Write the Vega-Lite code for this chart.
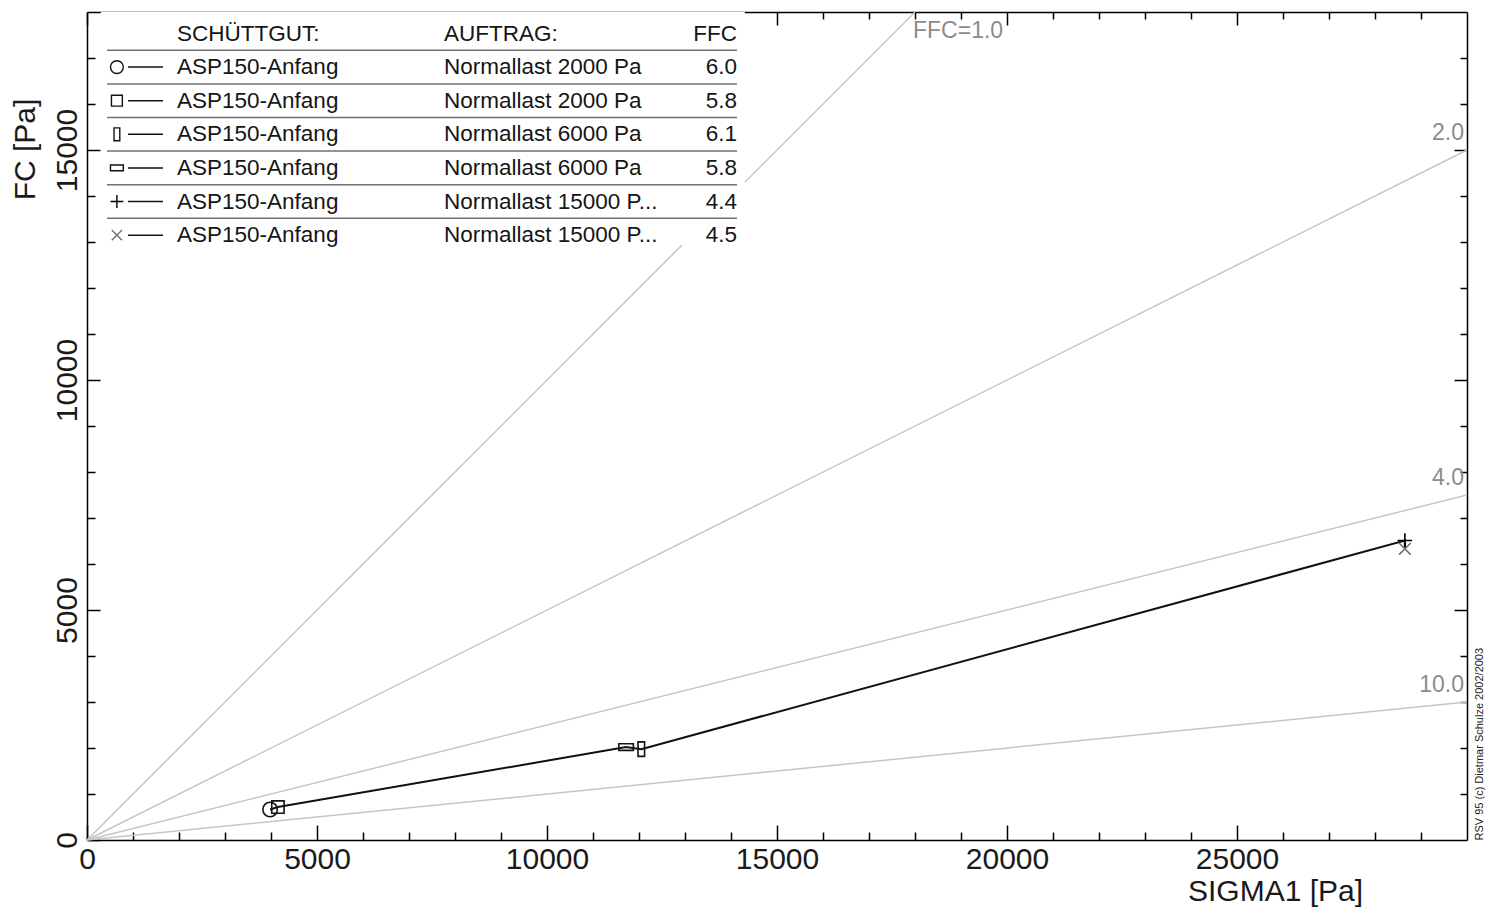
{
  "$schema": "https://vega.github.io/schema/vega-lite/v6.json",
  "width": 1380,
  "height": 828,
  "autosize": {"type": "none"},
  "padding": {"left": 87, "top": 12, "right": 19, "bottom": 71},
  "background": "white",
  "config": {
    "view": {"stroke": null},
    "font": "Liberation Sans",
    "text": {"font": "Liberation Sans"},
    "axis": {
      "grid": false,
      "labelFont": "Liberation Sans",
      "labelFontSize": 30,
      "labelColor": "#1a1a1a",
      "titleFont": "Liberation Sans",
      "titleFontSize": 30,
      "titleFontWeight": "normal",
      "titleColor": "#1a1a1a",
      "domainColor": "#000000",
      "domainWidth": 1.5,
      "tickColor": "#000000",
      "tickWidth": 1.5,
      "labelFlush": false,
      "zindex": 1
    }
  },
  "datasets": {
    "ffcLines": [
      {"ffc": 1, "sigma1": 0, "fc": 0},
      {"ffc": 1, "sigma1": 18000, "fc": 18000},
      {"ffc": 2, "sigma1": 0, "fc": 0},
      {"ffc": 2, "sigma1": 30000, "fc": 15000},
      {"ffc": 4, "sigma1": 0, "fc": 0},
      {"ffc": 4, "sigma1": 30000, "fc": 7500},
      {"ffc": 10, "sigma1": 0, "fc": 0},
      {"ffc": 10, "sigma1": 30000, "fc": 3000}
    ],
    "ffcLabels": [
      {"ffc": 1, "label": "FFC=1.0", "sigma1": 18000, "fc": 18000},
      {"ffc": 2, "label": "2.0", "sigma1": 30000, "fc": 15000},
      {"ffc": 4, "label": "4.0", "sigma1": 30000, "fc": 7500},
      {"ffc": 10, "label": "10.0", "sigma1": 30000, "fc": 3000}
    ],
    "pts": [
      {"series": "s1", "step": 1, "sigma1": 3980, "fc": 663},
      {"series": "s2", "step": 2, "sigma1": 4150, "fc": 716},
      {"series": "s3", "step": 4, "sigma1": 12050, "fc": 1975},
      {"series": "s4", "step": 3, "sigma1": 11720, "fc": 2020},
      {"series": "s5", "step": 5, "sigma1": 28650, "fc": 6510},
      {"series": "s6", "step": 6, "sigma1": 28650, "fc": 6330}
    ],
    "legend": [
      {"order": 0, "series": "header", "schuettgut": "SCHÜTTGUT:", "auftrag": "AUFTRAG:", "ffc": "FFC"},
      {"order": 1, "series": "s1", "schuettgut": "ASP150-Anfang", "auftrag": "Normallast 2000 Pa", "ffc": "6.0"},
      {"order": 2, "series": "s2", "schuettgut": "ASP150-Anfang", "auftrag": "Normallast 2000 Pa", "ffc": "5.8"},
      {"order": 3, "series": "s3", "schuettgut": "ASP150-Anfang", "auftrag": "Normallast 6000 Pa", "ffc": "6.1"},
      {"order": 4, "series": "s4", "schuettgut": "ASP150-Anfang", "auftrag": "Normallast 6000 Pa", "ffc": "5.8"},
      {"order": 5, "series": "s5", "schuettgut": "ASP150-Anfang", "auftrag": "Normallast 15000 P...", "ffc": "4.4"},
      {"order": 6, "series": "s6", "schuettgut": "ASP150-Anfang", "auftrag": "Normallast 15000 P...", "ffc": "4.5"}
    ],
    "blank": [{}]
  },
  "resolve": {"scale": {"y": "independent"}, "axis": {"x": "independent", "y": "independent"}},
  "layer": [
    {
      "data": {"name": "ffcLines"},
      "mark": {"type": "line", "color": "#c6c6c6", "strokeWidth": 1.5},
      "encoding": {
        "x": {"field": "sigma1", "type": "quantitative",
          "scale": {"domain": [0, 30000], "nice": false, "zero": true},
          "axis": {"orient": "bottom", "values": [0, 5000, 10000, 15000, 20000, 25000], "format": "d", "tickSize": -15, "labelPadding": 19,
            "title": "SIGMA1 [Pa]", "titleX": 1188, "titleAlign": "center", "titlePadding": 2}},
        "y": {"field": "fc", "type": "quantitative",
          "scale": {"domain": [0, 18000], "nice": false, "zero": true},
          "axis": {"orient": "left", "values": [0, 5000, 10000, 15000], "format": "d", "tickSize": -13, "labelPadding": 18,
            "labelAngle": -90, "labelAlign": "center", "labelBaseline": "bottom",
            "title": "FC [Pa]", "titleY": 137, "titleAlign": "center", "titleAngle": -90, "titlePadding": 12}},
        "detail": {"field": "ffc"}
      }
    },
    {
      "data": {"name": "ffcLabels"},
      "transform": [{"filter": "datum.ffc != 1"}],
      "mark": {"type": "text", "align": "right", "baseline": "bottom", "dx": -3, "dy": -5, "fontSize": 23, "color": "#8c8c8c"},
      "encoding": {
        "x": {"field": "sigma1", "type": "quantitative",
          "axis": {"orient": "top", "values": [1000, 2000, 3000, 4000, 6000, 7000, 8000, 9000, 11000, 12000, 13000, 14000, 16000, 17000, 18000, 19000, 21000, 22000, 23000, 24000, 26000, 27000, 28000, 29000],
            "tickSize": -7, "labels": false, "domain": false, "title": null}},
        "y": {"field": "fc", "type": "quantitative",
          "scale": {"domain": [0, 18000], "nice": false, "zero": true},
          "axis": {"orient": "right", "values": [1000, 2000, 3000, 4000, 6000, 7000, 8000, 9000, 11000, 12000, 13000, 14000, 16000, 17000],
            "tickSize": -7, "labels": false, "domain": false, "title": null}},
        "text": {"field": "label"}
      }
    },
    {
      "data": {"name": "ffcLabels"},
      "transform": [{"filter": "datum.ffc == 1"}],
      "mark": {"type": "text", "align": "left", "baseline": "top", "dx": -2, "dy": 8, "fontSize": 23, "color": "#8c8c8c"},
      "encoding": {
        "x": {"field": "sigma1", "type": "quantitative", "axis": null},
        "y": {"field": "fc", "type": "quantitative", "scale": {"domain": [0, 18000], "nice": false, "zero": true}, "axis": null},
        "text": {"field": "label"}
      }
    },
    {
      "data": {"name": "blank"},
      "mark": {"type": "rect", "color": "white"},
      "encoding": {
        "x": {"datum": 300, "type": "quantitative", "axis": null},
        "x2": {"datum": 14300},
        "y": {"datum": -0.64, "type": "quantitative", "scale": {"domain": [-0.64, 24.0], "reverse": true, "nice": false, "zero": false}, "axis": null},
        "y2": {"datum": 6.3}
      }
    },
    {
      "data": {"name": "legend"},
      "transform": [{"filter": "datum.order > 0"}],
      "mark": {"type": "rule", "color": "#707070", "strokeWidth": 1.5, "yOffset": -16.8},
      "encoding": {
        "x": {"datum": 435, "type": "quantitative", "axis": null},
        "x2": {"datum": 14130},
        "y": {"field": "order", "type": "quantitative", "scale": {"domain": [-0.64, 24.0], "reverse": true, "nice": false, "zero": false}, "axis": null}
      }
    },
    {
      "data": {"name": "legend"},
      "transform": [{"filter": "datum.order > 0"}],
      "mark": {"type": "rule", "color": "#111111", "strokeWidth": 1.5},
      "encoding": {
        "x": {"datum": 891, "type": "quantitative", "axis": null},
        "x2": {"datum": 1652},
        "y": {"field": "order", "type": "quantitative", "scale": {"domain": [-0.64, 24.0], "reverse": true, "nice": false, "zero": false}, "axis": null}
      }
    },
    {
      "data": {"name": "legend"},
      "transform": [{"filter": "datum.order > 0"}],
      "mark": {"type": "point", "filled": false, "size": 165, "strokeWidth": 1.4, "opacity": 1},
      "encoding": {
        "x": {"datum": 650, "type": "quantitative", "axis": null},
        "y": {"field": "order", "type": "quantitative", "scale": {"domain": [-0.64, 24.0], "reverse": true, "nice": false, "zero": false}, "axis": null},
        "shape": {"field": "series", "type": "nominal", "legend": null,
          "scale": {"domain": ["s1", "s2", "s3", "s4", "s5", "s6"],
            "range": ["M1,0A1,1,0,1,1,-1,0A1,1,0,1,1,1,0Z", "M-0.85,-0.85H0.85V0.85H-0.85Z", "M-0.45,-1H0.45V1H-0.45Z", "M-1,-0.45H1V0.45H-1Z", "M-1,0H1M0,-1V1", "M-0.8,-0.8L0.8,0.8M0.8,-0.8L-0.8,0.8"]}},
        "stroke": {"field": "series", "type": "nominal", "legend": null,
          "scale": {"domain": ["s1", "s2", "s3", "s4", "s5", "s6"], "range": ["#111111", "#111111", "#111111", "#111111", "#000000", "#707070"]}}
      }
    },
    {
      "data": {"name": "legend"},
      "mark": {"type": "text", "align": "left", "baseline": "middle", "fontSize": 22.5, "color": "#151515"},
      "encoding": {
        "x": {"datum": 1957, "type": "quantitative", "axis": null},
        "y": {"field": "order", "type": "quantitative", "scale": {"domain": [-0.64, 24.0], "reverse": true, "nice": false, "zero": false}, "axis": null},
        "text": {"field": "schuettgut"}
      }
    },
    {
      "data": {"name": "legend"},
      "mark": {"type": "text", "align": "left", "baseline": "middle", "fontSize": 22.5, "color": "#151515"},
      "encoding": {
        "x": {"datum": 7761, "type": "quantitative", "axis": null},
        "y": {"field": "order", "type": "quantitative", "scale": {"domain": [-0.64, 24.0], "reverse": true, "nice": false, "zero": false}, "axis": null},
        "text": {"field": "auftrag"}
      }
    },
    {
      "data": {"name": "legend"},
      "mark": {"type": "text", "align": "right", "baseline": "middle", "fontSize": 22.5, "color": "#151515"},
      "encoding": {
        "x": {"datum": 14130, "type": "quantitative", "axis": null},
        "y": {"field": "order", "type": "quantitative", "scale": {"domain": [-0.64, 24.0], "reverse": true, "nice": false, "zero": false}, "axis": null},
        "text": {"field": "ffc"}
      }
    },
    {
      "data": {"name": "pts"},
      "mark": {"type": "line", "color": "#111111", "strokeWidth": 2},
      "encoding": {
        "x": {"field": "sigma1", "type": "quantitative",
          "axis": {"orient": "bottom", "values": [1000, 2000, 3000, 4000, 6000, 7000, 8000, 9000, 11000, 12000, 13000, 14000, 16000, 17000, 18000, 19000, 21000, 22000, 23000, 24000, 26000, 27000, 28000, 29000],
            "tickSize": -8, "labels": false, "domain": false, "title": null}},
        "y": {"field": "fc", "type": "quantitative",
          "scale": {"domain": [0, 18000], "nice": false, "zero": true},
          "axis": {"orient": "left", "values": [1000, 2000, 3000, 4000, 6000, 7000, 8000, 9000, 11000, 12000, 13000, 14000, 16000, 17000],
            "tickSize": -8, "labels": false, "domain": false, "title": null}},
        "order": {"field": "step"}
      }
    },
    {
      "data": {"name": "pts"},
      "mark": {"type": "point", "filled": false, "size": 210, "strokeWidth": 1.6, "opacity": 1},
      "encoding": {
        "x": {"field": "sigma1", "type": "quantitative",
          "axis": {"orient": "top", "values": [0, 5000, 10000, 15000, 20000, 25000], "tickSize": -13, "labels": false, "title": null}},
        "y": {"field": "fc", "type": "quantitative",
          "scale": {"domain": [0, 18000], "nice": false, "zero": true},
          "axis": {"orient": "right", "values": [5000, 10000, 15000], "tickSize": -13, "labels": false,
            "title": "RSV 95 (c) Dietmar Schulze 2002/2003", "titleFontSize": 11, "titleColor": "#222222", "titleAngle": -90,
            "titleAnchor": "start", "titleAlign": "left", "titleBaseline": "top", "titlePadding": 6}},
        "shape": {"field": "series", "type": "nominal", "legend": null,
          "scale": {"domain": ["s1", "s2", "s3", "s4", "s5", "s6"],
            "range": ["M1,0A1,1,0,1,1,-1,0A1,1,0,1,1,1,0Z", "M-0.85,-0.85H0.85V0.85H-0.85Z", "M-0.45,-1H0.45V1H-0.45Z", "M-1,-0.45H1V0.45H-1Z", "M-1,0H1M0,-1V1", "M-0.8,-0.8L0.8,0.8M0.8,-0.8L-0.8,0.8"]}},
        "stroke": {"field": "series", "type": "nominal", "legend": null,
          "scale": {"domain": ["s1", "s2", "s3", "s4", "s5", "s6"], "range": ["#111111", "#111111", "#111111", "#111111", "#000000", "#707070"]}}
      }
    }
  ]
}
